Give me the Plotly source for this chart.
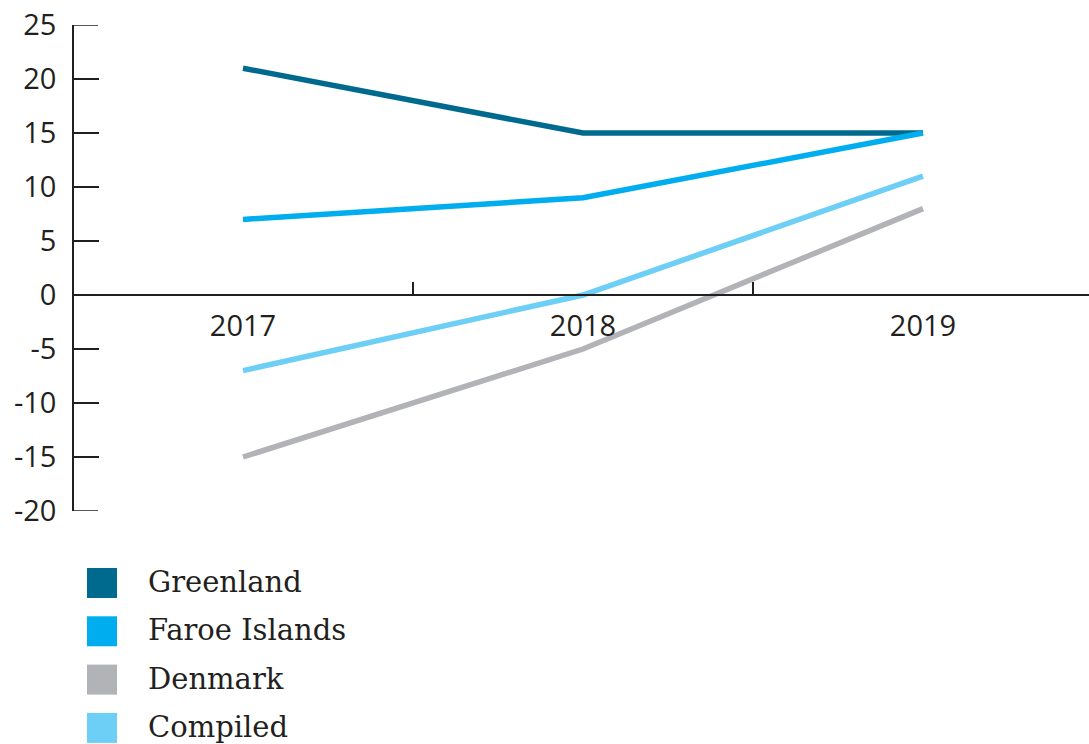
import plotly.graph_objects as go

years = ["2017", "2018", "2019"]
series_names = ["Greenland", "Faroe Islands", "Denmark", "Compiled"]
greenland = [21, 15, 15]
faroe = [7, 9, 15]
denmark = [-15, -5, 8]
compiled = [-7, 0, 11]
series_values = [greenland, faroe, denmark, compiled]
colors = ["#006a8e", "#00adee", "#b2b3b7", "#6dcff6"]
y_ticks = [-20, -15, -10, -5, 0, 5, 10, 15, 20, 25]
y_tick_labels = [str(v) for v in y_ticks]  # plain hyphen minus

W, H = 1089, 744
L, R, T, B = 73, 0, 25, 233
PW, PH = W - L - R, H - T - B
INK = "#231f20"

fig = go.Figure()
for name, vals, col in zip(series_names, series_values, colors):
    fig.add_trace(go.Scatter(
        x=years, y=vals, name=name, mode="lines",
        line=dict(color=col, width=5.5), showlegend=False,
        cliponaxis=False,
    ))

ymin, ymax = -20, 25
fig.update_layout(
    width=W, height=H,
    margin=dict(l=L, r=R, t=T, b=B, pad=0),
    plot_bgcolor="white", paper_bgcolor="white",
    xaxis=dict(
        type="category", range=[-0.5, -0.5 + PW / 340.0],
        anchor="free", position=(0 - ymin) / (ymax - ymin),
        showgrid=False, zeroline=False,
        showline=True, linecolor=INK, linewidth=1.5,
        ticks="inside", tickson="boundaries", ticklen=12, tickwidth=1.5, tickcolor=INK,
        tickfont=dict(family="Open Sans", size=29, color=INK),
        ticklabelstandoff=5,
    ),
    yaxis=dict(
        range=[ymin, ymax], tickvals=y_ticks, ticktext=y_tick_labels,
        anchor="free", position=0,
        showgrid=False, zeroline=False,
        showline=True, linecolor=INK, linewidth=1.5,
        ticks="inside", ticklen=25, tickwidth=1.5, tickcolor=INK,
        tickfont=dict(family="Open Sans", size=29, color=INK),
        ticklabelstandoff=10,
    ),
)

# y tick marks pointing into the plot (drawn from the tick list)
for v in y_ticks:
    fig.add_shape(type="line", xref="paper", yref="y",
                  x0=0, x1=25 / PW, y0=v, y1=v,
                  line=dict(color=INK, width=1.5), layer="above")

# legend with square swatches built from the series lists
def px_to_paper(px, py):
    return (px - L) / PW, (T + PH - py) / PH

for i, (name, col) in enumerate(zip(series_names, colors)):
    cy = 583 + i * 48.3
    x0, y0 = px_to_paper(87, cy + 15)
    x1, y1 = px_to_paper(117, cy - 15)
    fig.add_shape(type="rect", xref="paper", yref="paper",
                  x0=x0, y0=y0, x1=x1, y1=y1,
                  line=dict(width=0), fillcolor=col, layer="above")
    tx, ty = px_to_paper(146, cy - 1)
    fig.add_annotation(xref="paper", yref="paper", x=tx, y=ty,
                       xanchor="left", yanchor="middle", showarrow=False,
                       text=name, font=dict(family="DejaVu Serif", size=29, color=INK))

fig.write_html("out.html")
